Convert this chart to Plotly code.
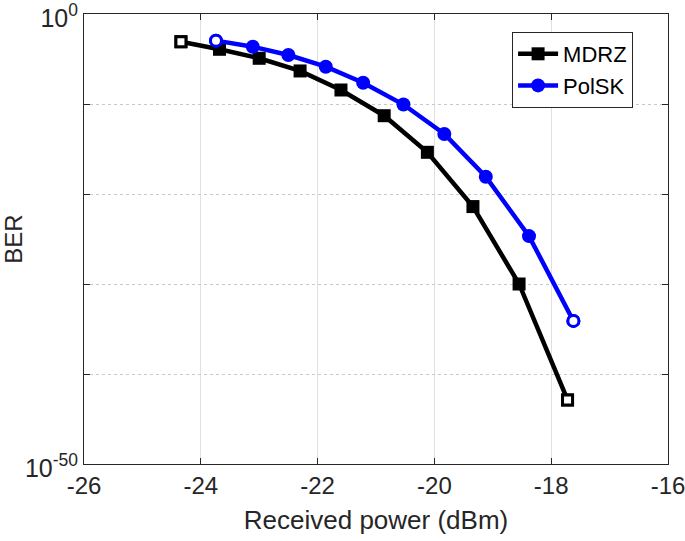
import plotly.graph_objects as go

power_mdrz = [-24.34, -23.68, -23.0, -22.3, -21.6, -20.86, -20.12, -19.34, -18.55, -17.72]
ber_mdrz = [8.3e-4, 1.2e-4, 1.2e-5, 4.7e-7, 3.6e-9, 5.0e-12, 4.3e-16, 4.0e-22, 1.0e-30, 1.3e-43]
power_polsk = [-23.74, -23.11, -22.5, -21.86, -21.22, -20.53, -19.83, -19.12, -18.38, -17.62]
ber_polsk = [1.1e-3, 2.3e-4, 2.8e-5, 1.4e-6, 2.3e-8, 8.7e-11, 4.7e-14, 8.3e-19, 2.1e-25, 7.9e-35]

x_ticks = [-26, -24, -22, -20, -18, -16]
y_ticks = [1, 1e-10, 1e-20, 1e-30, 1e-40, 1e-50]
y_ticktext = ["10<sup>0</sup>", "", "", "", "", "10<sup>-50</sup>"]

series = [
    ("MDRZ", power_mdrz, ber_mdrz, "black", "square", 13),
    ("PolSK", power_polsk, ber_polsk, "#0000ff", "circle", 14),
]

fig = go.Figure()
for name, xs, ys, color, sym, size in series:
    fig.add_trace(go.Scatter(
        x=xs, y=ys, name=name, mode="lines+markers",
        line=dict(color=color, width=4.5),
        marker=dict(symbol=sym, size=size, color=color, line=dict(color=color, width=0)),
    ))
for name, xs, ys, color, sym, size in series:
    fig.add_trace(go.Scatter(
        x=[xs[0], xs[-1]], y=[ys[0], ys[-1]], mode="markers", showlegend=False,
        marker=dict(symbol=sym, size=size - 3, color="white", line=dict(color=color, width=3)),
    ))

font_family = "Liberation Sans, Arial, sans-serif"
fig.update_layout(
    width=685, height=541,
    margin=dict(l=84, r=17, t=14, b=77),
    paper_bgcolor="white", plot_bgcolor="white",
    font=dict(family=font_family, size=24, color="#262626"),
    showlegend=True,
    legend=dict(x=0.733, y=0.96, xanchor="left", yanchor="top",
                bgcolor="white", bordercolor="#262626", borderwidth=1,
                font=dict(size=22, color="black"), tracegroupgap=0,
                itemwidth=40),
)
fig.update_xaxes(
    range=[-26, -16], tickvals=x_ticks, ticktext=[str(v) for v in x_ticks],
    ticks="inside", ticklen=6, tickcolor="#262626", automargin=False,
    ticklabeloverflow="allow",
    showline=True, linecolor="#262626", linewidth=1, mirror="ticks",
    showgrid=True, gridcolor="#e0e0e0", gridwidth=1, zeroline=False,
    tickfont=dict(size=24),
    title=dict(text="Received power (dBm)", font=dict(size=26), standoff=13),
)
fig.update_yaxes(
    type="log", range=[-50, 0], tickvals=y_ticks, ticktext=y_ticktext,
    ticks="inside", ticklen=6, tickcolor="#262626", automargin=False,
    ticklabeloverflow="allow", ticklabelshift=4,
    showline=True, linecolor="#262626", linewidth=1, mirror="ticks",
    showgrid=True, gridcolor="#c8c8c8", gridwidth=1, griddash="dot", zeroline=False,
    tickfont=dict(size=25),
    title=dict(text="BER", font=dict(size=24), standoff=6),
)

fig.write_html("out.html", config={"displayModeBar": False},
               post_script="document.body.style.margin='0';")
